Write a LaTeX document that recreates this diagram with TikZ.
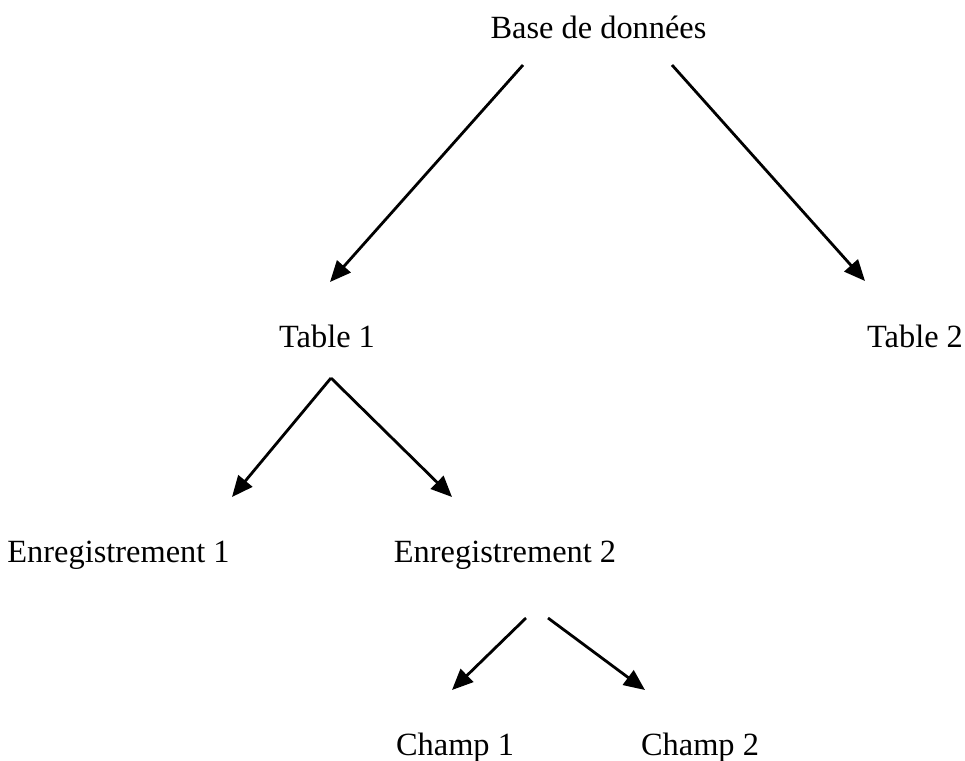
\documentclass[tikz,border=0pt]{standalone}
\usepackage{fontspec}
\setmainfont{Liberation Serif}
\usetikzlibrary{arrows.meta}
\begin{document}
\begin{tikzpicture}[x=0.5pt,y=-0.5pt,
  lbl/.style={inner sep=0pt, anchor=base, font=\fontsize{16.2}{19}\selectfont},
  arr/.style={line width=1.4pt, -{Triangle[length=10.5pt,width=9pt]}}]
\useasboundingbox[fill=white] (0,0) rectangle (965,761);
\node[lbl] (base) at (598.5,38) {Base de données};
\node[lbl] (t1) at (327,347) {Table 1};
\node[lbl] (t2) at (915,347) {Table 2};
\node[lbl] (e1) at (118.5,562) {Enregistrement 1};
\node[lbl] (e2) at (505,562) {Enregistrement 2};
\node[lbl] (c1) at (455,755) {Champ 1};
\node[lbl] (c2) at (700,755) {Champ 2};
\coordinate (bl) at (523,65);
\coordinate (br) at (672,65);
\coordinate (t1in) at (330,282);
\coordinate (t2in) at (865,281);
\coordinate (t1out) at (331,378);
\coordinate (e1in) at (232,497);
\coordinate (e2in) at (452,497);
\coordinate (e2outl) at (526,618);
\coordinate (e2outr) at (548,618);
\coordinate (c1in) at (452,690);
\coordinate (c2in) at (645,690);
\draw[arr] (bl) -- (t1in);
\draw[arr] (br) -- (t2in);
\draw[arr] (t1out) -- (e1in);
\draw[arr] (t1out) -- (e2in);
\draw[arr] (e2outl) -- (c1in);
\draw[arr] (e2outr) -- (c2in);
\end{tikzpicture}
\end{document}
